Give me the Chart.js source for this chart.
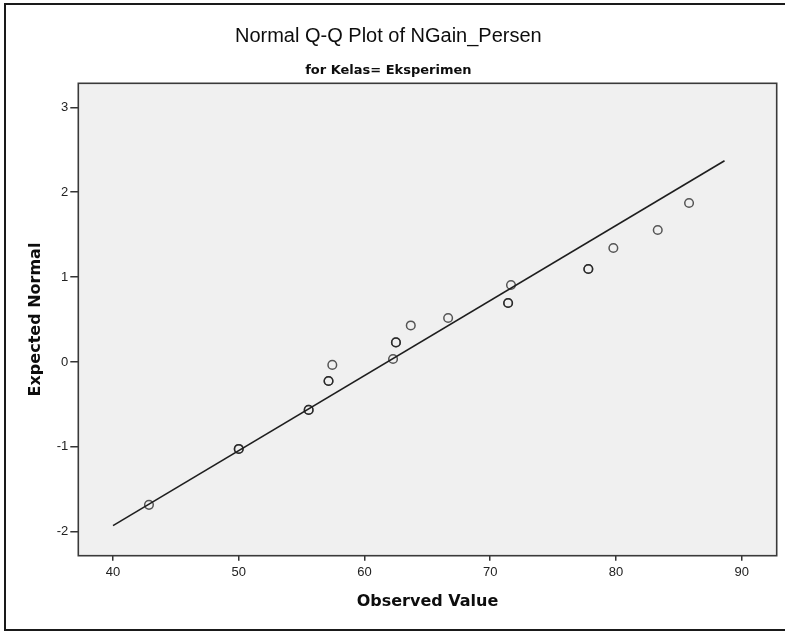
<!DOCTYPE html>
<html><head><meta charset="utf-8">
<script src="https://cdn.jsdelivr.net/npm/chart.js@4/dist/chart.umd.min.js"></script>
<style>html,body{margin:0;padding:0;background:#fff;} #wrap{position:relative;width:785px;height:632px;}</style>
</head><body><div id="wrap"><canvas id="c" width="785" height="632"></canvas></div>
<script>
// ---- data ----
const observed = [42.86, 50.0, 50.0, 55.56, 55.56, 57.14, 57.14, 57.44, 62.27, 62.5, 62.5, 63.68, 66.65, 71.42, 71.42, 71.65, 77.8, 77.8, 79.79, 83.32, 85.81];
const expected = [-1.684, -1.025, -1.025, -0.565, -0.565, -0.224, -0.224, -0.035, 0.035, 0.23, 0.23, 0.43, 0.518, 0.695, 0.695, 0.907, 1.095, 1.095, 1.343, 1.555, 1.873];
const lineX = [40, 88.63];
const lineY = [-1.928, 2.371];
const xTicks = [40, 50, 60, 70, 80, 90];
const yTicks = [-2, -1, 0, 1, 2, 3];
const titleText = 'Normal Q-Q Plot of NGain_Persen';
const subtitleText = 'for Kelas= Eksperimen';
const xTitle = 'Observed Value';
const yTitle = 'Expected Normal';

const framePlugin = {
  id: 'frame',
  beforeDraw(chart) {
    const {ctx, chartArea: a} = chart;
    ctx.save();
    ctx.fillStyle = '#fff';
    ctx.fillRect(0, 0, chart.width, chart.height);
    ctx.strokeStyle = '#1a1a1a';
    ctx.lineWidth = 2;
    ctx.beginPath();
    ctx.moveTo(800, 4); ctx.lineTo(5, 4); ctx.lineTo(5, 630); ctx.lineTo(800, 630);
    ctx.stroke();
    ctx.fillStyle = '#f0f0f0';
    ctx.fillRect(a.left, a.top, a.right - a.left, a.bottom - a.top);
    ctx.restore();
  },
  afterDraw(chart) {
    const {ctx, chartArea: a} = chart;
    ctx.save();
    ctx.strokeStyle = '#3a3a3a';
    ctx.lineWidth = 1.6;
    ctx.strokeRect(a.left, a.top, a.right - a.left, a.bottom - a.top);
    ctx.restore();
  }
};

new Chart(document.getElementById('c'), {
  type: 'scatter',
  data: {
    datasets: [
      {
        type: 'line',
        data: lineX.map((x, i) => ({x: x, y: lineY[i]})),
        borderColor: '#1e1e1e',
        borderWidth: 1.6,
        pointRadius: 0,
        fill: false,
        tension: 0
      },
      {
        data: observed.map((x, i) => ({x: x, y: expected[i]})),
        pointStyle: 'circle',
        pointRadius: 4.3,
        backgroundColor: 'rgba(0,0,0,0)',
        borderColor: 'rgba(25,25,25,0.72)',
        borderWidth: 1.5
      }
    ]
  },
  options: {
    responsive: false,
    animation: false,
    devicePixelRatio: 1,
    layout: {padding: {top: 0, left: 0, right: 8.3, bottom: 0}},
    plugins: {
      legend: {display: false},
      tooltip: {enabled: false},
      title: {
        display: true, text: titleText, color: '#0d0d0d',
        font: {family: 'Liberation Sans', size: 20, weight: 'normal', lineHeight: 1.2},
        padding: {top: 24, bottom: 0}
      },
      subtitle: {
        display: true, text: subtitleText, color: '#0d0d0d',
        font: {family: 'DejaVu Sans', size: 13, weight: 'bold', lineHeight: 1.2},
        padding: {top: 14.7, bottom: 5}
      }
    },
    scales: {
      x: {
        type: 'linear', position: 'bottom', min: 37.24, max: 92.78,
        afterBuildTicks: s => { s.ticks = xTicks.map(v => ({value: v})); },
        afterFit: s => { s.height = 76.3; },
        border: {display: false},
        grid: {display: true, drawOnChartArea: false, drawTicks: true, tickLength: 5, color: '#333', lineWidth: 1.5},
        ticks: {font: {family: 'Liberation Sans', size: 13}, color: '#222', padding: 4, maxRotation: 0, autoSkip: false},
        title: {display: true, text: xTitle, color: '#0d0d0d',
          font: {family: 'DejaVu Sans', size: 16, weight: 'bold', lineHeight: 1.2},
          padding: {top: 0, bottom: 20.7}}
      },
      y: {
        type: 'linear', position: 'left', min: -2.283, max: 3.283,
        afterBuildTicks: s => { s.ticks = yTicks.map(v => ({value: v})); },
        afterFit: s => { s.width = 78.3; },
        border: {display: false},
        grid: {display: true, drawOnChartArea: false, drawTicks: true, tickLength: 8, color: '#333', lineWidth: 1.5},
        ticks: {font: {family: 'Liberation Sans', size: 13}, color: '#222', padding: 2, autoSkip: false},
        title: {display: true, text: yTitle, color: '#0d0d0d',
          font: {family: 'DejaVu Sans', size: 16, weight: 'bold', lineHeight: 1.2},
          padding: {top: 26.2, bottom: 0}}
      }
    }
  },
  plugins: [framePlugin]
});
</script>
</body></html>
